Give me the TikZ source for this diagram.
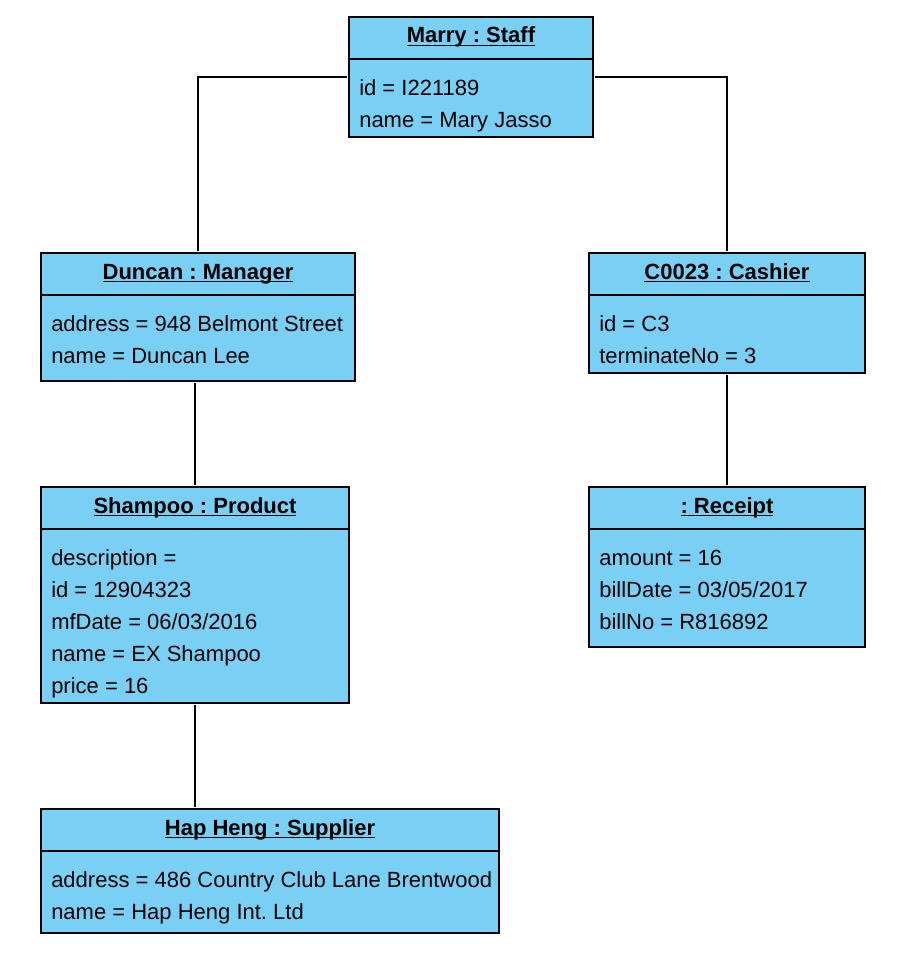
\documentclass[tikz,border=0pt]{standalone}
\usepackage{fontspec}
\setmainfont{Liberation Sans}
\frenchspacing
\usetikzlibrary{positioning,calc}
\definecolor{objblue}{RGB}{122,207,245}
\newcommand{\ulname}[1]{\sbox0{\textbf{#1}}\rlap{\rule[-2.4pt]{\wd0}{0.9pt}}\usebox0}
\newcommand{\fl}{\rule{0pt}{12pt}}
\tikzstyle{objhead} = [rectangle, draw, fill=objblue, line width=1.1pt, inner sep=0pt, outer sep=0pt, anchor=north west, text height=19.5pt, text depth=12pt]
\tikzstyle{objbody} = [rectangle, draw, fill=objblue, line width=1.1pt, inner sep=0pt, outer sep=0pt, anchor=north west]
\tikzstyle{attrs} = [align=left, inner sep=0pt, anchor=north west]
\tikzstyle{link} = [line width=1.1pt, shorten <=1.5pt, shorten >=1.5pt]

\begin{document}
\begin{tikzpicture}[x=0.75pt, y=-0.75pt, font=\fontsize{16.5}{24}\selectfont]
    \useasboundingbox (0,0) rectangle (899,977);

    % Marry : Staff
    \node[objhead, minimum width=183pt] (staff) at (349,17) {\ulname{Marry : Staff}};
    \node[objbody, minimum width=183pt, minimum height=58.5pt] (staffB) at (staff.south west) {};
    \node[attrs] (staffT) at ([xshift=7.5pt, yshift=-15pt]staffB.north west) {\fl id = I221189\\name = Mary Jasso};

    % Duncan : Manager
    \node[objhead, minimum width=235.5pt] (man) at (41,253) {\ulname{Duncan : Manager}};
    \node[objbody, minimum width=235.5pt, minimum height=64.5pt] (manB) at (man.south west) {};
    \node[attrs] (manT) at ([xshift=7.5pt, yshift=-15pt]manB.north west) {\fl address = 948 Belmont Street\\name = Duncan Lee};

    % C0023 : Cashier
    \node[objhead, minimum width=207pt] (cash) at (589,253) {\ulname{C0023 : Cashier}};
    \node[objbody, minimum width=207pt, minimum height=58.5pt] (cashB) at (cash.south west) {};
    \node[attrs] (cashT) at ([xshift=7.5pt, yshift=-15pt]cashB.north west) {\fl id = C3\\terminateNo = 3};

    % Shampoo : Product
    \node[objhead, minimum width=231pt] (prod) at (41,487) {\ulname{Shampoo : Product}};
    \node[objbody, minimum width=231pt, minimum height=130.5pt] (prodB) at (prod.south west) {};
    \node[attrs] (prodT) at ([xshift=7.5pt, yshift=-15pt]prodB.north west) {\fl description =\\id = 12904323\\mfDate = 06/03/2016\\name = EX Shampoo\\price = 16};

    % : Receipt
    \node[objhead, minimum width=207pt] (rec) at (589,487) {\ulname{: Receipt}};
    \node[objbody, minimum width=207pt, minimum height=88.5pt] (recB) at (rec.south west) {};
    \node[attrs] (recT) at ([xshift=7.5pt, yshift=-15pt]recB.north west) {\fl amount = 16\\billDate = 03/05/2017\\billNo = R816892};

    % Hap Heng : Supplier
    \node[objhead, minimum width=343.5pt] (sup) at (41,809) {\ulname{Hap Heng : Supplier}};
    \node[objbody, minimum width=343.5pt, minimum height=61.5pt] (supB) at (sup.south west) {};
    \node[attrs] (supT) at ([xshift=7.5pt, yshift=-15pt]supB.north west) {\fl address = 486 Country Club Lane Brentwood\\name = Hap Heng Int. Ltd};

    % links
    \draw[link] ([yshift=-13.5pt]staffB.north west) -| (man.north);
    \draw[link] ([yshift=-13.5pt]staffB.north east) -| (cash.north);
    \draw[link] (manB.south -| prod.north) -- (prod.north);
    \draw[link] (cashB.south) -- (rec.north);
    \draw[link] (prodB.south) -- (prodB.south |- sup.north);
\end{tikzpicture}
\end{document}
